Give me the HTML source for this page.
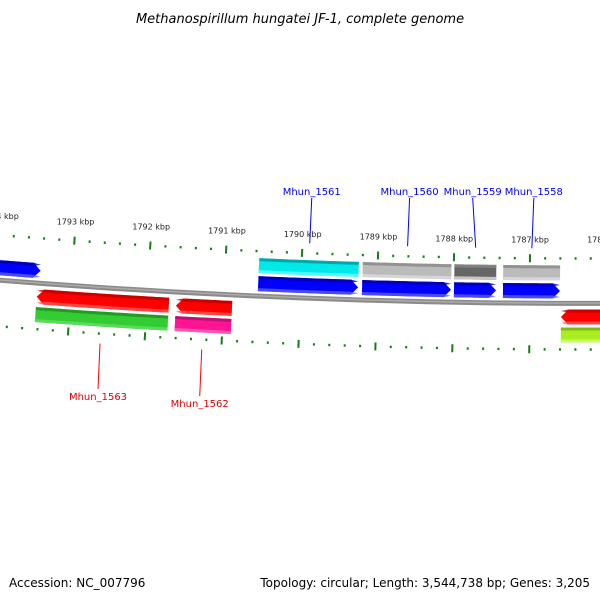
<!DOCTYPE html>
<html><head><meta charset="utf-8"><style>
html,body{margin:0;padding:0;background:#fff;}
svg{display:block;font-family:"DejaVu Sans","Liberation Sans",sans-serif;}
</style></head><body>
<svg id="map" width="600" height="600" viewBox="0 0 600 600" xmlns="http://www.w3.org/2000/svg">
<text x="300" y="23" text-anchor="middle" font-size="13" font-style="italic" fill="#000">Methanospirillum hungatei JF-1, complete genome</text>
<text x="9" y="587" font-size="12" fill="#000">Accession: NC_007796</text>
<text x="590" y="587" text-anchor="end" font-size="12" fill="#000">Topology: circular; Length: 3,544,738 bp; Genes: 3,205</text>
<g id="plot"></g>
</svg>
<script>
// data
const tickKbp = [1786, 1787, 1788, 1789, 1790, 1791, 1792, 1793, 1794];
const fwdNames = ["left-gene", "Mhun_1561", "Mhun_1560", "Mhun_1559", "Mhun_1558"];
const fwdStart = [1794100, 1790559, 1789197, 1787992, 1787350];
const fwdEnd = [1793415, 1789249, 1788031, 1787441, 1786603];
const fwdRingColor = [null, "#00e8e8", "#bbbbbb", "#666666", "#bbbbbb"];
const fwdLabeled = [false, true, true, true, true];
const revNames = ["Mhun_1563", "Mhun_1562", "right-gene"];
const revStart = [1793441, 1791620, 1786590];
const revEnd = [1791712, 1790887, 1785900];
const revRingColor = ["#33cc33", "#ff1493", "#aaee22"];
const revLabeled = [true, true, false];

const NS = "http://www.w3.org/2000/svg";
const R = 7500, cx = 590, cy = 303.5 - R, B0 = 1786210, k = 1.0193e-5;
const g = document.getElementById("plot");
function pt(r, bp) { const t = -(bp - B0) * k; return [cx + r * Math.sin(t), cy + r * Math.cos(t)]; }
function mk(tag, attrs) { const e = document.createElementNS(NS, tag); for (const a in attrs) e.setAttribute(a, attrs[a]); g.appendChild(e); return e; }
function band(r1, r2, b1, b2) {
  const n = 12, p = [];
  for (let i = 0; i <= n; i++) p.push(pt(r1, b1 + (b2 - b1) * i / n));
  for (let i = n; i >= 0; i--) p.push(pt(r2, b1 + (b2 - b1) * i / n));
  return "M" + p.map(q => q[0].toFixed(2) + "," + q[1].toFixed(2)).join("L") + "Z";
}
function arrow(r1, r2, bFrom, bTip) {
  const head = 95 * Math.sign(bTip - bFrom), bh = bTip - head, rm = (r1 + r2) / 2, n = 12, p = [];
  for (let i = 0; i <= n; i++) p.push(pt(r1, bFrom + (bh - bFrom) * i / n));
  p.push(pt(rm, bTip));
  for (let i = n; i >= 0; i--) p.push(pt(r2, bFrom + (bh - bFrom) * i / n));
  return "M" + p.map(q => q[0].toFixed(2) + "," + q[1].toFixed(2)).join("L") + "Z";
}
function shadedBand(name, r1, r2, b1, b2, col, dark, light, isArrow) {
  const f = isArrow ? arrow : band;
  let e = mk("path", { d: f(r1, r2, b1, b2), fill: col });
  
  
  e = mk("path", { d: f(r1, r1 + 3, b1, b2), fill: dark, opacity: 0.8 });
  
  
  e = mk("path", { d: f(r2 - 3, r2, b1, b2), fill: light, opacity: 0.8 });
  
  
}
let bb = mk("path", { d: band(R - 2.5, R + 2.5, 1795000, 1785000), fill: "#8a8a8a" });


bb = mk("path", { d: band(R - 1, R + 0.5, 1795000, 1785000), fill: "#aaaaaa" });


for (let i = 0; i < tickKbp.length; i++) {
  for (let m = 0; m < 5; m++) {
    const bp = tickKbp[i] * 1000 + m * 200;
    [R - 45, R + 46].forEach((r) => {
      const major = m === 0, h = major ? 4 : 1.2;
      const a = pt(r - h, bp), b = pt(r + h, bp);
      const t = mk("line", { x1: a[0], y1: a[1], x2: b[0], y2: b[1], stroke: "#1a7a1a", "stroke-width": 2 });
      
      
    });
  }
  const lp = pt(R - 61, tickKbp[i] * 1000);
  const tl = mk("text", { x: lp[0], y: lp[1], "text-anchor": "middle", "font-size": 8, fill: "#222" });
  tl.textContent = tickKbp[i] + " kbp";
  
  
}
for (let i = 0; i < fwdStart.length; i++) {
  shadedBand("forward-gene-" + fwdNames[i], R - 20, R - 5, fwdStart[i], fwdEnd[i], "#0000ff", "#0000aa", "#5a5aff", true);
  if (fwdRingColor[i]) {
    const c = fwdRingColor[i];
    shadedBand("ring-feature-" + fwdNames[i], R - 38, R - 23, fwdStart[i], fwdEnd[i], c, c === "#00e8e8" ? "#009999" : "#888888", c === "#00e8e8" ? "#66ffff" : "#dddddd", false);
  }
  if (fwdLabeled[i]) {
    const mid = (fwdStart[i] + fwdEnd[i]) / 2;
    const a = pt(R - 55, mid), lx = a[0] + (i === 3 ? -3 : 2);
    const ln = mk("line", { x1: a[0], y1: a[1], x2: lx, y2: 198, stroke: "#0000ff", "stroke-width": 1 });
    
    
    const t = mk("text", { x: lx, y: 195, "text-anchor": "middle", "font-size": 10, fill: "#0000ff" });
    t.textContent = fwdNames[i];
    
    
  }
}
for (let i = 0; i < revStart.length; i++) {
  shadedBand("reverse-gene-" + revNames[i], R + 6, R + 21, revEnd[i], revStart[i], "#ff0000", "#bb0000", "#ff5555", true);
  const c = revRingColor[i];
  shadedBand("ring-feature-" + revNames[i], R + 24, R + 39, revStart[i], revEnd[i], c, c === "#33cc33" ? "#1f8f1f" : c === "#ff1493" ? "#b0106a" : "#77aa11", c === "#33cc33" ? "#66dd66" : c === "#ff1493" ? "#ff66bb" : "#ccff66", false);
  if (revLabeled[i]) {
    const mid = (revStart[i] + revEnd[i]) / 2;
    const a = pt(R + 56, mid), lx = a[0] - 2;
    const ln = mk("line", { x1: a[0], y1: a[1], x2: lx, y2: 389 + i * 7, stroke: "#ff0000", "stroke-width": 1 });
    
    
    const t = mk("text", { x: lx, y: 400 + i * 7, "text-anchor": "middle", "font-size": 10, fill: "#dd0000" });
    t.textContent = revNames[i];
    
    
  }
}
</script>
</body></html>
